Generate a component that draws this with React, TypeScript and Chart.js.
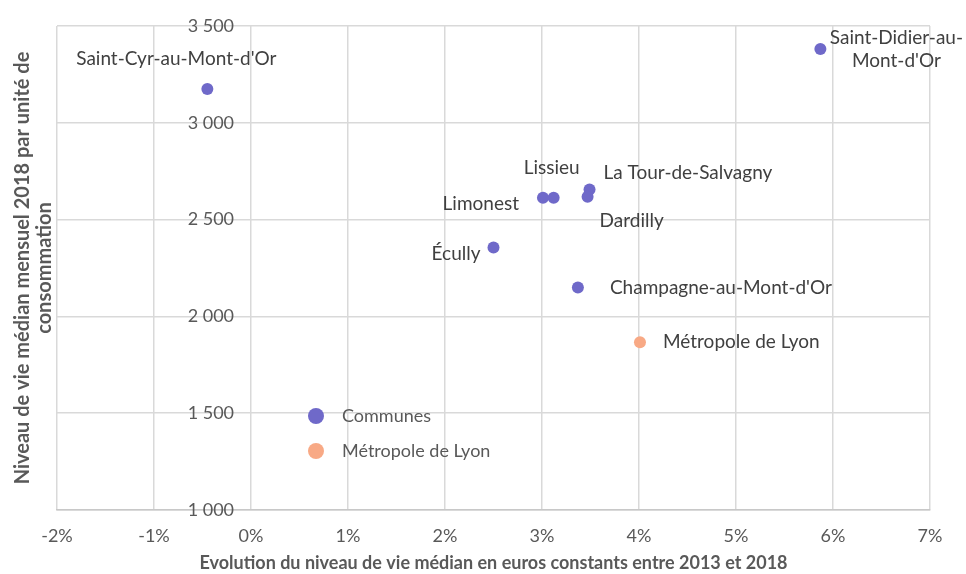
import React, { useEffect, useRef } from 'react';
import { Chart, registerables } from 'chart.js';

Chart.register(...registerables);

// ---- Data ----
const seriesNames = ['Communes', 'Métropole de Lyon'];

const communeNames = [
  "Saint-Cyr-au-Mont-d'Or",
  "Saint-Didier-au-Mont-d'Or",
  'Lissieu',
  'Limonest',
  'La Tour-de-Salvagny',
  'Dardilly',
  'Écully',
  "Champagne-au-Mont-d'Or",
];
const communeEvolution = [-0.45, 5.87, 3.12, 3.01, 3.49, 3.47, 2.5, 3.37];
const communeNiveau = [3175, 3381, 2613, 2613, 2655, 2618, 2356, 2149];

const metropoleNames = ['Métropole de Lyon'];
const metropoleEvolution = [4.01];
const metropoleNiveau = [1866];

const xTickValues = [-2, -1, 0, 1, 2, 3, 4, 5, 6, 7];
const yTickValues = [1000, 1500, 2000, 2500, 3000, 3500];

const xTitle = 'Evolution du niveau de vie médian en euros constants entre 2013 et 2018';
const yTitle = ['Niveau de vie médian mensuel 2018 par unité de', 'consommation'];

// ---- Styles ----
const PURPLE = '#6f69c9';
const ORANGE = '#f8a985';
const GRID = '#d9d9d9';
const TICK_COLOR = '#595959';
const LABEL_COLOR = '#404040';
const FONT = 'Lato, "Noto Sans", sans-serif';

type Placement = { dx: number; dy: number; align: CanvasTextAlign; breakAfter?: number };
const labelPlacement: Record<string, Placement> = {
  "Saint-Cyr-au-Mont-d'Or": { dx: -31, dy: -30, align: 'center' },
  "Saint-Didier-au-Mont-d'Or": { dx: 76, dy: -11, align: 'center', breakAfter: 16 },
  Lissieu: { dx: -2, dy: -30, align: 'center' },
  Limonest: { dx: -24, dy: 6, align: 'right' },
  'La Tour-de-Salvagny': { dx: 14, dy: -17, align: 'left' },
  Dardilly: { dx: 12, dy: 24, align: 'left' },
  'Écully': { dx: -13, dy: 6, align: 'right' },
  "Champagne-au-Mont-d'Or": { dx: 32, dy: 0, align: 'left' },
  'Métropole de Lyon': { dx: 23, dy: 0, align: 'left' },
};

const legendStyle = { offsetX: 259, offsetY: 390, rowGap: 35, radius: 8, textGap: 26 };

const fmtThousands = (v: number) => {
  const s = String(Math.round(v));
  return s.length > 3 ? s.slice(0, s.length - 3) + ' ' + s.slice(-3) : s;
};

const pointLabelsPlugin = {
  id: 'pointLabels',
  afterDatasetsDraw(chart: any) {
    const ctx = chart.ctx;
    const allNames = [communeNames, metropoleNames];
    ctx.save();
    ctx.font = `19px ${FONT}`;
    ctx.fillStyle = LABEL_COLOR;
    ctx.textBaseline = 'middle';
    chart.data.datasets.forEach((_ds: any, di: number) => {
      const meta = chart.getDatasetMeta(di);
      meta.data.forEach((el: any, i: number) => {
        const name = allNames[di][i];
        const p = labelPlacement[name] || { dx: 10, dy: 0, align: 'left' };
        ctx.textAlign = p.align;
        const lines = p.breakAfter ? [name.slice(0, p.breakAfter), name.slice(p.breakAfter)] : [name];
        lines.forEach((line, li) => {
          ctx.fillText(line, el.x + p.dx, el.y + p.dy + li * 23);
        });
      });
    });
    ctx.restore();
  },
};

const innerLegendPlugin = {
  id: 'innerLegend',
  afterDraw(chart: any) {
    const ctx = chart.ctx;
    const { left, top } = chart.chartArea;
    ctx.save();
    ctx.font = `18px ${FONT}`;
    ctx.textBaseline = 'middle';
    ctx.textAlign = 'left';
    chart.data.datasets.forEach((ds: any, i: number) => {
      const cx = left + legendStyle.offsetX;
      const cy = top + legendStyle.offsetY + i * legendStyle.rowGap;
      ctx.beginPath();
      ctx.arc(cx, cy, legendStyle.radius, 0, Math.PI * 2);
      ctx.fillStyle = ds.backgroundColor;
      ctx.fill();
      ctx.fillStyle = TICK_COLOR;
      ctx.fillText(ds.label, cx + legendStyle.textGap, cy);
    });
    ctx.restore();
  },
};

export default function App() {
  const canvasRef = useRef<HTMLCanvasElement | null>(null);

  useEffect(() => {
    if (!canvasRef.current) return;
    const chart = new Chart(canvasRef.current, {
      type: 'scatter',
      data: {
        datasets: [
          {
            label: seriesNames[0],
            data: communeEvolution.map((x, i) => ({ x, y: communeNiveau[i] })),
            backgroundColor: PURPLE,
            borderColor: PURPLE,
            pointRadius: 6,
            pointBorderWidth: 0,
          },
          {
            label: seriesNames[1],
            data: metropoleEvolution.map((x, i) => ({ x, y: metropoleNiveau[i] })),
            backgroundColor: ORANGE,
            borderColor: ORANGE,
            pointRadius: 6,
            pointBorderWidth: 0,
          },
        ],
      },
      options: {
        responsive: true,
        maintainAspectRatio: false,
        animation: false,
        layout: { padding: { top: 26, right: 36, bottom: 0, left: 0 } },
        plugins: {
          legend: { display: false },
          tooltip: { enabled: false },
          title: {
            display: true,
            position: 'left',
            fullSize: false,
            text: yTitle,
            color: TICK_COLOR,
            font: { family: FONT, size: 20, weight: 'bold', lineHeight: 1.1 },
            padding: { top: 12, bottom: 1 },
          },
        },
        scales: {
          x: {
            type: 'linear',
            min: xTickValues[0],
            max: xTickValues[xTickValues.length - 1],
            afterBuildTicks: (scale: any) => {
              scale.ticks = xTickValues.map((v) => ({ value: v }));
            },
            afterFit: (scale: any) => {
              scale.height = 64;
            },
            ticks: {
              callback: (v: any) => `${v}%`,
              color: TICK_COLOR,
              font: { family: FONT, size: 18, lineHeight: 1.2 },
              padding: 15,
              maxRotation: 0,
            },
            grid: { color: GRID, lineWidth: 1.5, drawTicks: false },
            border: { color: '#c8c8c8', width: 1.5 },
            title: {
              display: true,
              text: xTitle,
              color: TICK_COLOR,
              font: { family: FONT, size: 18, weight: 'bold', lineHeight: 1.2 },
              padding: { top: 0, bottom: 0 },
            },
          },
          y: {
            type: 'linear',
            min: yTickValues[0],
            max: yTickValues[yTickValues.length - 1],
            position: { x: -0.175 } as any,
            afterBuildTicks: (scale: any) => {
              scale.ticks = yTickValues.map((v) => ({ value: v }));
            },
            ticks: {
              callback: (v: any) => fmtThousands(Number(v)),
              color: TICK_COLOR,
              font: { family: FONT, size: 18 },
            },
            grid: { color: GRID, lineWidth: 1.5, drawTicks: false },
            border: { display: false },
          },
        },
      },
      plugins: [pointLabelsPlugin, innerLegendPlugin],
    });
    return () => chart.destroy();
  }, []);

  return (
    <div style={{ position: 'fixed', left: 0, top: 0, width: 966, height: 574, background: '#fff' }}>
      <canvas ref={canvasRef} />
    </div>
  );
}
